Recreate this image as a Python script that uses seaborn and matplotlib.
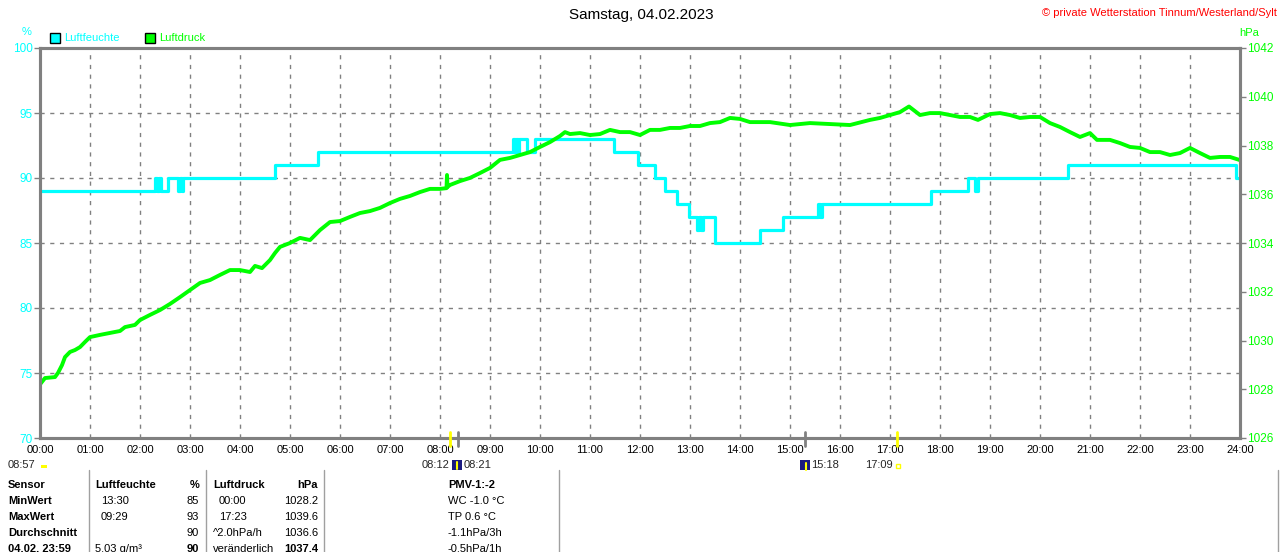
import matplotlib
matplotlib.use("Agg")
import matplotlib.pyplot as plt
from matplotlib.patches import Rectangle
from matplotlib.lines import Line2D
import seaborn as sns
import pandas as pd

# ---------------- data ----------------
title = "Samstag, 04.02.2023"
copyright_txt = "\u00a9 private Wetterstation Tinnum/Westerland/Sylt"
hour_labels = [f"{h:02d}:00" for h in range(25)]

hum_time = [0.00, 2.30, 2.34, 2.38, 2.42, 2.56, 2.76, 2.80, 2.83, 2.86, 4.70, 5.56,
            9.45, 9.49, 9.52, 9.56, 9.58, 9.74, 9.90, 11.48, 11.96, 12.30, 12.50,
            12.74, 12.98, 13.14, 13.18, 13.22, 13.26, 13.50, 14.40, 14.86, 15.56,
            15.60, 15.64, 17.82, 18.56, 18.70, 18.76, 20.56, 23.92, 24.00]
hum_value = [89, 90, 89, 90, 89, 90, 89, 90, 89, 90, 91, 92,
             93, 92, 93, 92, 93, 92, 93, 92, 91, 90, 89,
             88, 87, 86, 87, 86, 87, 85, 86, 87, 88,
             87, 88, 89, 90, 89, 90, 91, 90, 90]

press_time = [0.0, 0.1, 0.3, 0.36, 0.44, 0.5, 0.6, 0.7, 0.8, 0.9, 1.0, 1.2, 1.4, 1.6, 1.7,
              1.9, 2.0, 2.2, 2.4, 2.6, 2.8, 3.0, 3.2, 3.4, 3.6, 3.8, 4.0, 4.2, 4.3, 4.44,
              4.6, 4.7, 4.8, 5.0, 5.2, 5.4, 5.6, 5.8, 6.0, 6.2, 6.4, 6.6, 6.8, 7.0, 7.2,
              7.4, 7.6, 7.8, 8.0, 8.13, 8.14, 8.15, 8.2, 8.4, 8.6, 8.8, 9.0, 9.2, 9.4,
              9.6, 9.8, 10.0, 10.2, 10.4, 10.5, 10.6, 10.8, 11.0, 11.2, 11.4, 11.6, 11.8,
              12.0, 12.2, 12.4, 12.6, 12.8, 13.0, 13.2, 13.4, 13.6, 13.8, 14.0, 14.2,
              14.6, 15.0, 15.4, 15.8, 16.2, 16.6, 16.8, 17.0, 17.2, 17.38, 17.6, 17.8,
              18.0, 18.2, 18.4, 18.6, 18.76, 19.0, 19.2, 19.4, 19.6, 19.8, 20.0, 20.2,
              20.4, 20.6, 20.8, 21.0, 21.14, 21.4, 21.6, 21.8, 22.0, 22.2, 22.4, 22.6,
              22.8, 23.0, 23.2, 23.4, 23.6, 23.8, 24.0]
press_hpa = [1028.20, 1028.46, 1028.50, 1028.67, 1028.99, 1029.32, 1029.53, 1029.61, 1029.73,
             1029.94, 1030.14, 1030.23, 1030.31, 1030.39, 1030.55, 1030.64, 1030.84, 1031.05,
             1031.25, 1031.50, 1031.78, 1032.07, 1032.36, 1032.48, 1032.69, 1032.89, 1032.89,
             1032.81, 1033.06, 1032.97, 1033.30, 1033.59, 1033.84, 1034.00, 1034.21, 1034.12,
             1034.53, 1034.86, 1034.90, 1035.07, 1035.23, 1035.31, 1035.44, 1035.64, 1035.81,
             1035.93, 1036.09, 1036.22, 1036.22, 1036.25, 1036.79, 1036.30, 1036.38, 1036.54,
             1036.67, 1036.87, 1037.08, 1037.41, 1037.49, 1037.61, 1037.73, 1037.94, 1038.14,
             1038.39, 1038.55, 1038.47, 1038.51, 1038.43, 1038.47, 1038.64, 1038.55, 1038.55,
             1038.43, 1038.64, 1038.64, 1038.72, 1038.72, 1038.80, 1038.80, 1038.92, 1038.96,
             1039.13, 1039.09, 1038.96, 1038.96, 1038.84, 1038.92, 1038.88, 1038.84, 1039.05,
             1039.13, 1039.25, 1039.37, 1039.60, 1039.25, 1039.33, 1039.33, 1039.25, 1039.17,
             1039.17, 1039.05, 1039.29, 1039.33, 1039.25, 1039.13, 1039.17, 1039.17, 1038.92,
             1038.76, 1038.55, 1038.35, 1038.51, 1038.23, 1038.23, 1038.10, 1037.94, 1037.90,
             1037.73, 1037.73, 1037.61, 1037.69, 1037.90, 1037.69, 1037.49, 1037.53, 1037.53,
             1037.40]

sun_marks = [("08:12", 8.20, "gold"), ("08:21", 8.35, "gray"),
             ("15:18", 15.30, "gray"), ("17:09", 17.15, "gold")]

table_rows = [
    ["Sensor", "Luftfeuchte", "%", "Luftdruck", "hPa", "PMV-1:-2"],
    ["MinWert", "13:30", "85", "00:00", "1028.2", "WC -1.0 \u00b0C"],
    ["MaxWert", "09:29", "93", "17:23", "1039.6", "TP 0.6 \u00b0C"],
    ["Durchschnitt", "", "90", "^2.0hPa/h", "1036.6", "-1.1hPa/3h"],
    ["04.02. 23:59", "5.03 g/m\u00b3", "90", "ver\u00e4nderlich", "1037.4", "-0.5hPa/1h"],
]

hum_df = pd.DataFrame({"t": hum_time, "v": hum_value})
press_df = pd.DataFrame({"t": press_time, "v": press_hpa})

# ---------------- style ----------------
sns.set_style("white")
plt.rcParams["font.family"] = ["Liberation Sans", "DejaVu Sans"]

W, H = 1280, 552
FS = 8
fig = plt.figure(figsize=(W / 100, H / 100), dpi=100)
fig.patch.set_facecolor("white")


def fx(x):
    return x / W


def fy(y):
    return 1 - y / H


ax = fig.add_axes([fx(40), fy(438), 1200 / W, 390 / H])
ax2 = ax.twinx()

CYAN = "#00FFFF"
GREEN = "#00FF00"
GRAY = "#808080"

sns.lineplot(data=hum_df, x="t", y="v", ax=ax, color=CYAN, lw=2.3,
             drawstyle="steps-post", estimator=None, sort=False)
sns.lineplot(data=press_df, x="t", y="v", ax=ax2, color=GREEN, lw=2.8,
             estimator=None, sort=False)

ax.set_xlim(0, 24)
ax.set_ylim(70, 100)
ax2.set_ylim(1026, 1042)
for a in (ax, ax2):
    a.set_xlabel("")
    a.set_ylabel("")

ax.set_xticks(range(25))
ax.set_xticklabels(hour_labels)
ax.set_yticks(range(70, 101, 5))
ax2.set_yticks(range(1026, 1043, 2))

ax.tick_params(axis="x", length=0, pad=5, labelsize=FS, labelcolor="black")
ax.tick_params(axis="y", length=4, width=1, color=GRAY, pad=1, labelsize=8.5,
               labelcolor=CYAN, left=True)
ax2.tick_params(axis="y", length=4, width=1, color=GRAY, pad=1, labelsize=8.5,
                labelcolor=GREEN, right=True)

ax.grid(True, linestyle=(0, (3, 4)), color=GRAY, lw=1)
ax2.grid(False)
for a in (ax, ax2):
    for s in a.spines.values():
        s.set_color(GRAY)
        s.set_linewidth(2.2)
        s.set_visible(True)

# ---------------- header texts ----------------
fig.text(fx(641), fy(15), title, ha="center", va="center", fontsize=11, color="black")
fig.text(fx(1277), fy(13), copyright_txt, ha="right", va="center", fontsize=8, color="red")
fig.text(fx(27), fy(32), "%", ha="center", va="center", fontsize=FS, color=CYAN)
fig.text(fx(1249), fy(33), "hPa", ha="center", va="center", fontsize=FS, color=GREEN)

fig.add_artist(Rectangle((fx(50), fy(43)), 10 / W, 10 / H, transform=fig.transFigure,
                         facecolor=CYAN, edgecolor="black", lw=1))
fig.text(fx(64), fy(38), "Luftfeuchte", ha="left", va="center", fontsize=FS, color=CYAN)
fig.add_artist(Rectangle((fx(145), fy(43)), 10 / W, 10 / H, transform=fig.transFigure,
                         facecolor=GREEN, edgecolor="black", lw=1))
fig.text(fx(159), fy(38), "Luftdruck", ha="left", va="center", fontsize=FS, color=GREEN)

# ---------------- sunrise / sunset markers ----------------
for label, t, col in sun_marks:
    x = 40 + t * 50
    c = "#FFFF00" if col == "gold" else GRAY
    fig.add_artist(Line2D([fx(x), fx(x)], [fy(432), fy(446)], transform=fig.transFigure,
                          color=c, lw=2))

SY = 465
fig.text(fx(8), fy(SY), "08:57", ha="left", va="center", fontsize=FS)
fig.add_artist(Rectangle((fx(41), fy(468)), 6 / W, 3 / H, transform=fig.transFigure,
                         facecolor="#FFFF00", edgecolor="none"))
fig.text(fx(449), fy(SY), "08:12", ha="right", va="center", fontsize=FS)
fig.add_artist(Rectangle((fx(452), fy(470)), 10 / W, 10 / H, transform=fig.transFigure,
                         facecolor="#1a1a80", edgecolor="none"))
fig.add_artist(Line2D([fx(457), fx(457)], [fy(462), fy(469)], transform=fig.transFigure,
                      color="#FFFF00", lw=1.5))
fig.text(fx(464), fy(SY), "08:21", ha="left", va="center", fontsize=FS)
fig.add_artist(Rectangle((fx(800), fy(470)), 10 / W, 10 / H, transform=fig.transFigure,
                         facecolor="#1a1a80", edgecolor="none"))
fig.add_artist(Line2D([fx(806), fx(806)], [fy(463), fy(470)], transform=fig.transFigure,
                      color="#FFFF00", lw=1.5))
fig.text(fx(811), fy(SY), "15:18", ha="left", va="center", fontsize=FS)
fig.text(fx(893), fy(SY), "17:09", ha="right", va="center", fontsize=FS)
fig.add_artist(Rectangle((fx(896), fy(468)), 4 / W, 4 / H, transform=fig.transFigure,
                         facecolor="none", edgecolor="#FFFF00", lw=1))

# ---------------- table ----------------
for xs in (89, 206, 324, 559, 1278):
    fig.add_artist(Line2D([fx(xs), fx(xs)], [fy(470), fy(552)], transform=fig.transFigure,
                          color="#A0A0A0", lw=1))

col_pos = [(8, "left"), (95, "left"), (199, "right"), (213, "left"), (318, "right"),
           (448, "left")]
row_y = [485, 501, 517, 533, 549]
for r, row in enumerate(table_rows):
    for c, txt in enumerate(row):
        x, ha = col_pos[c]
        if c in (1, 3) and r in (1, 2):
            x += 6
        bold = (r == 0) or (c == 0) or (r == 4 and c in (2, 4))
        fig.text(fx(x), fy(row_y[r]), txt, ha=ha, va="center", fontsize=FS,
                 fontweight="bold" if bold else "normal", color="black")

fig.savefig("out.png", dpi=100)
